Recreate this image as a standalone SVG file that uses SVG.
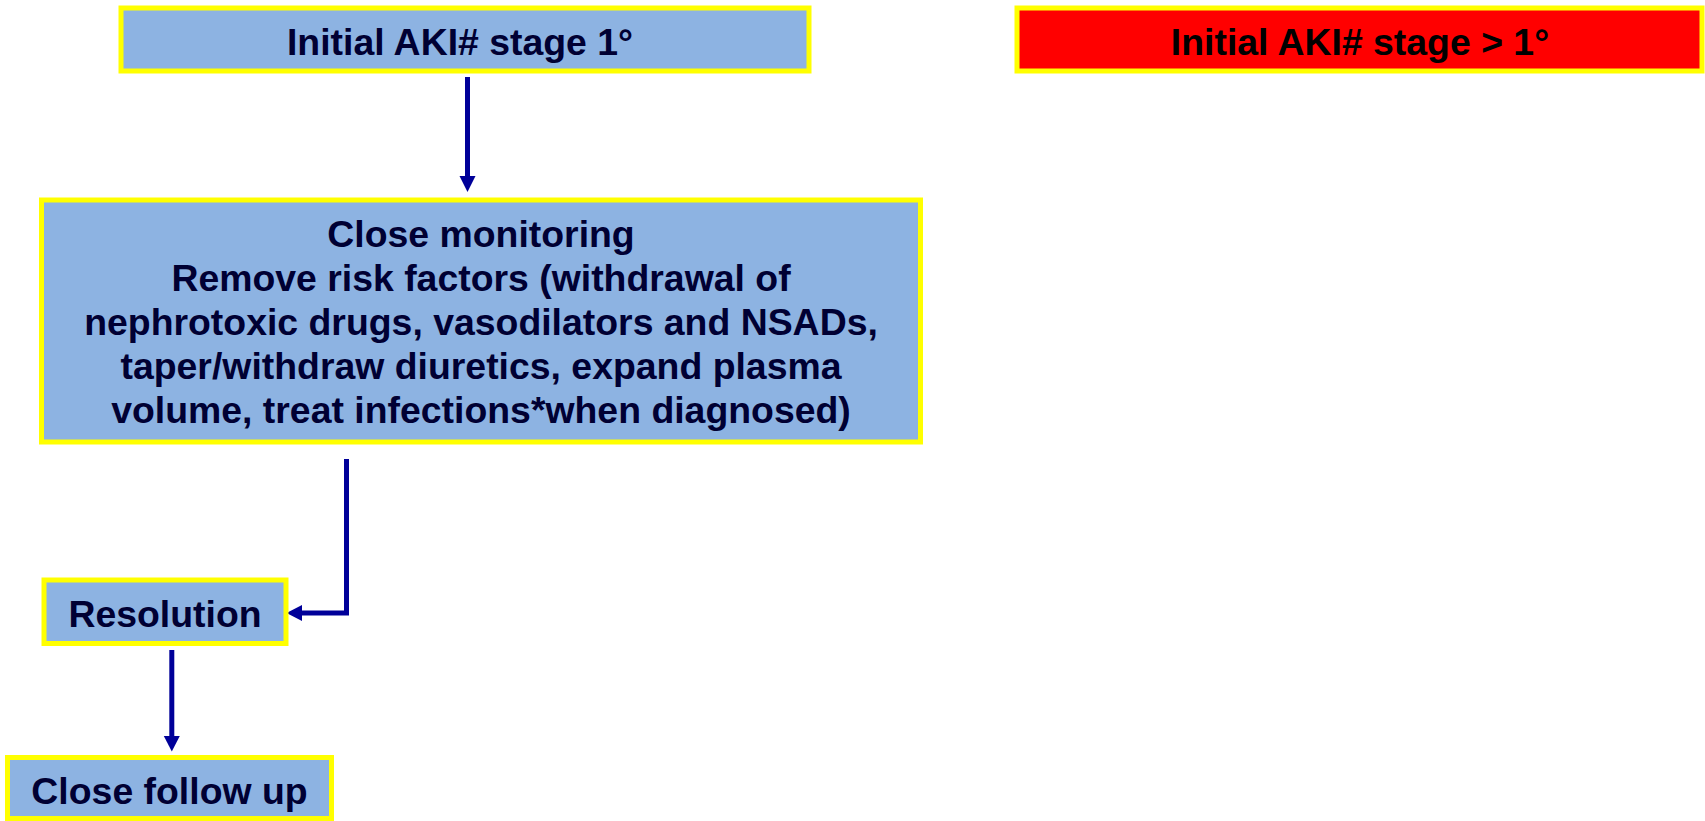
<svg xmlns="http://www.w3.org/2000/svg" width="1705" height="821" viewBox="0 0 1705 821">
<style>
.box{fill:#8db3e2;stroke:#ffff00;stroke-width:5}
.red{fill:#ff0000;stroke:#ffff00;stroke-width:5}
.t{font-family:"Liberation Sans",Arial,sans-serif;font-weight:bold;font-size:37.4px;fill:#000033;text-anchor:middle}
.tk{fill:#000000}
.c{fill:none;stroke:#000099;stroke-width:5}
.ah{fill:#000099}
</style>
<g id="connectors">
<path class="c" d="M467.5,77 V177"/>
<polygon class="ah" points="459.5,176 475.5,176 467.5,192"/>
<path class="c" d="M346.5,459 V613 H301"/>
<polygon class="ah" points="302,605 302,621 286.5,613"/>
<path class="c" d="M171.8,650 V737"/>
<polygon class="ah" points="163.8,736 179.8,736 171.8,751.5"/>
</g>
<g id="n1">
<rect class="box" x="121" y="8" width="688" height="63"/>
<text class="t" x="460" y="55">Initial AKI# stage 1°</text>
</g>
<g id="n2">
<rect class="red" x="1017" y="8" width="685" height="63"/>
<text class="t tk" x="1360" y="55">Initial AKI# stage &gt; 1°</text>
</g>
<g id="n3">
<rect class="box" x="41.5" y="200" width="879" height="242"/>
<text class="t" x="481" y="246.5">Close monitoring</text>
<text class="t" x="481" y="290.5">Remove risk factors (withdrawal of</text>
<text class="t" x="481" y="335">nephrotoxic drugs, vasodilators and NSADs,</text>
<text class="t" x="481" y="379">taper/withdraw diuretics, expand plasma</text>
<text class="t" x="481" y="423">volume, treat infections*when diagnosed)</text>
</g>
<g id="n4">
<rect class="box" x="44" y="580" width="242" height="63.5"/>
<text class="t" x="165" y="626.5">Resolution</text>
</g>
<g id="n5">
<rect class="box" x="7.5" y="757.5" width="324" height="61"/>
<text class="t" x="169.5" y="804">Close follow up</text>
</g>
</svg>
